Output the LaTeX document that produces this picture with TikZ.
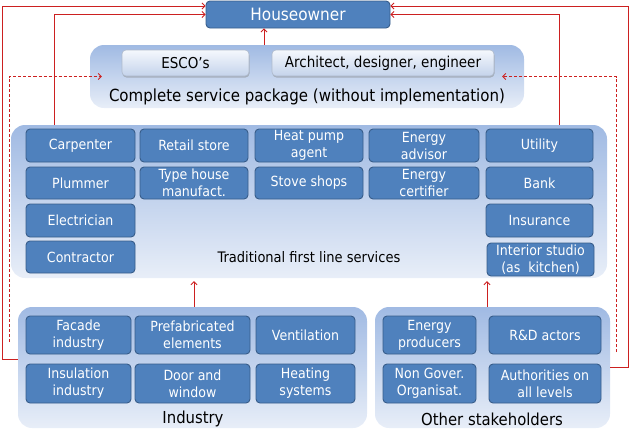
\documentclass[tikz,border=0pt]{standalone}
\usepackage{fontspec}
\setmainfont{DejaVu Sans Condensed}
\usetikzlibrary{arrows.meta,shadows}
\definecolor{boxblue}{RGB}{79,129,189}
\definecolor{boxline}{RGB}{56,93,138}
\definecolor{paneltop}{RGB}{160,186,227}
\definecolor{panelbot}{RGB}{232,238,248}
\definecolor{lighttop}{RGB}{245,248,253}
\definecolor{lightbot}{RGB}{196,211,235}
\definecolor{conred}{RGB}{204,32,32}
\tikzset{
  dbox/.style={draw=boxline, line width=0.9pt, fill=boxblue, rounded corners=4pt, text=white,
    inner sep=0pt, align=center, font=\fontsize{14}{17}\selectfont},
  lbox/.style={draw=lightbot!70!gray, line width=0.6pt, top color=lighttop, bottom color=lightbot,
    rounded corners=4pt, inner sep=0pt, align=center, font=\fontsize{15}{17}\selectfont,
    drop shadow={opacity=0.45, shadow xshift=0.5pt, shadow yshift=-1.5pt}},
  panel/.style={draw=none, top color=paneltop, bottom color=panelbot, rounded corners=14pt,
    inner sep=0pt},
  plabel/.style={inner sep=0pt, font=\fontsize{16.5}{18}\selectfont},
  conn/.style={draw=conred, line width=0.8pt, -{Straight Barb[length=3pt,width=6pt]}},
  dconn/.style={conn, dashed, dash pattern=on 3pt off 2pt},
}
\begin{document}
\begin{tikzpicture}[x=1pt,y=-1pt]
\useasboundingbox (0,0) rectangle (630,440);
% panels
\node[panel, minimum width=434pt, minimum height=63pt] (svc) at (307,76.5) {};
\node[panel, minimum width=596pt, minimum height=153pt] (trad) at (309,201.5) {};
\node[panel, minimum width=349pt, minimum height=121pt] (ind) at (192.5,367.5) {};
\node[panel, minimum width=235pt, minimum height=121pt] (oth) at (492.5,367.5) {};
% houseowner
\node[dbox, minimum width=184pt, minimum height=27pt, font=\fontsize{17}{19}\selectfont] (ho) at (298,14.5) {Houseowner};
% service package
\node[lbox, minimum width=127pt, minimum height=26pt] (esco) at (185.5,63) {ESCO’s};
\node[lbox, minimum width=222pt, minimum height=26pt] (arch) at (383,63) {Architect, designer, engineer};
\node[plabel, font=\fontsize{16.7}{18}\selectfont] (svcl) at (307,97) {Complete service package (without implementation)};
% traditional
\node[dbox, minimum width=109pt, minimum height=33pt] (carp) at (80.5,145.5) {Carpenter};
\node[dbox, minimum width=109pt, minimum height=32pt] (plum) at (80.5,183) {Plummer};
\node[dbox, minimum width=109pt, minimum height=33pt] (elec) at (80.5,220.5) {Electrician};
\node[dbox, minimum width=109pt, minimum height=32pt] (cont) at (80.5,257) {Contractor};
\node[dbox, minimum width=108pt, minimum height=33pt] (retail) at (194,145.5) {Retail store};
\node[dbox, minimum width=108pt, minimum height=32pt] (type) at (194,183) {Type house\\manufact.};
\node[dbox, minimum width=108pt, minimum height=33pt] (heat) at (309,145.5) {Heat pump\\agent};
\node[dbox, minimum width=108pt, minimum height=32pt] (stove) at (309,183) {Stove shops};
\node[dbox, minimum width=110pt, minimum height=33pt] (eadv) at (424,145.5) {Energy\\advisor};
\node[dbox, minimum width=110pt, minimum height=32pt] (ecert) at (424,183) {Energy\\certifier};
\node[dbox, minimum width=107pt, minimum height=33pt] (util) at (539.5,145.5) {Utility};
\node[dbox, minimum width=107pt, minimum height=32pt] (bank) at (539.5,183) {Bank};
\node[dbox, minimum width=107pt, minimum height=33pt] (insu) at (539.5,220.5) {Insurance};
\node[dbox, minimum width=107pt, minimum height=33pt] (inter) at (540.5,259.5) {Interior studio\\(as\ \ kitchen)};
\node[plabel, font=\fontsize{14.5}{16}\selectfont] (tradl) at (309,257) {Traditional first line services};
% industry
\node[dbox, minimum width=105pt, minimum height=38pt] (facade) at (78.5,335) {Facade\\industry};
\node[dbox, minimum width=115pt, minimum height=38pt] (prefab) at (192.5,335) {Prefabricated\\elements};
\node[dbox, minimum width=99pt, minimum height=38pt] (vent) at (305.5,335) {Ventilation};
\node[dbox, minimum width=105pt, minimum height=39pt] (insul) at (78.5,383.5) {Insulation\\industry};
\node[dbox, minimum width=115pt, minimum height=39pt] (door) at (192.5,383.5) {Door and\\window};
\node[dbox, minimum width=99pt, minimum height=39pt] (heating) at (305.5,383.5) {Heating\\systems};
\node[plabel] (indl) at (193,419) {Industry};
% other
\node[dbox, minimum width=93pt, minimum height=38pt] (eprod) at (429.5,335) {Energy\\producers};
\node[dbox, minimum width=112pt, minimum height=38pt] (rd) at (545,335) {R\&D actors};
\node[dbox, minimum width=93pt, minimum height=39pt] (ngo) at (429.5,383.5) {Non Gover.\\Organisat.};
\node[dbox, minimum width=112pt, minimum height=39pt] (auth) at (545,383.5) {Authorities on\\all levels};
\node[plabel] (othl) at (492,419) {Other stakeholders};
% helper coordinates
\coordinate (xa) at (264,0);
\coordinate (xb) at (194,0);
\coordinate (xc) at (487,0);
\coordinate (xl) at (54,0);
\coordinate (xr) at (559,0);
\coordinate (ol) at (2,359);
\coordinate (or) at (628,367);
\coordinate (yl) at (0,6);
\coordinate (dl) at (9,342);
\coordinate (dr) at (616,352);
% connectors
\draw[conn] (svc.north -| xa) -- (ho.south -| xa);
\draw[conn] (ind.north -| xb) -- ([yshift=-3pt]trad.south -| xb);
\draw[conn] (oth.north -| xc) -- ([yshift=-3pt]trad.south -| xc);
\draw[conn] (trad.north -| xl) |- (ho.west);
\draw[conn] (trad.north -| xr) |- (ho.east);
\draw[conn] (ind.west |- ol) -- (ol) |- (ho.west |- yl);
\draw[conn] (oth.east |- or) -- (or) |- (ho.east |- yl);
\draw[dconn] (dl) |- ([xshift=12pt]svc.west);
\draw[dconn] (dr) |- ([xshift=-22pt]svc.east);
\end{tikzpicture}
\end{document}
